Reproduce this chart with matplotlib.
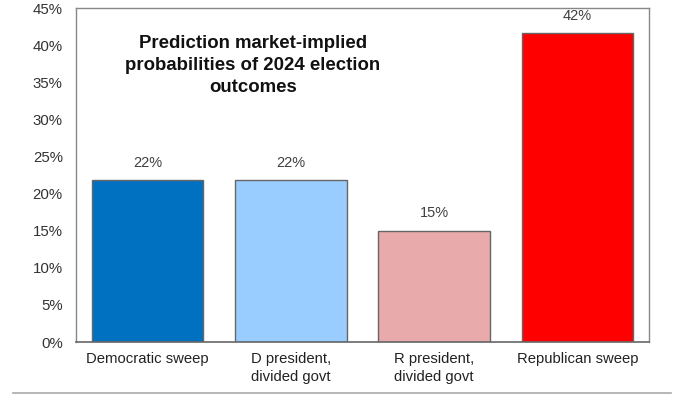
import matplotlib
matplotlib.use("Agg")
import matplotlib.pyplot as plt
from matplotlib.lines import Line2D

categories = ["Democratic sweep", "D president,\ndivided govt", "R president,\ndivided govt", "Republican sweep"]
values = [21.8, 21.8, 15.0, 41.6]
value_labels = ["22%", "22%", "15%", "42%"]
colors = ["#0070C0", "#99CCFF", "#E8AAAA", "#FF0000"]
yticks = [0, 5, 10, 15, 20, 25, 30, 35, 40, 45]
ytick_labels = [f"{t}%" for t in yticks]
title = "Prediction market-implied\nprobabilities of 2024 election\noutcomes"

plt.rcParams['font.family'] = ['Liberation Sans', 'DejaVu Sans']

fig = plt.figure(figsize=(7, 3.94), dpi=100)
ax = fig.add_axes([76/700, 1-342/394, (649-76)/700, (342-8)/394])

x = list(range(len(categories)))
bars = ax.bar(x, values, width=0.78, color=colors, edgecolor="#666666", linewidth=1.0, zorder=2)
for xi, v, lab in zip(x, values, value_labels):
    ax.annotate(lab, (xi, v), xytext=(0, 12.5), textcoords="offset points",
                ha="center", va="center", fontsize=10.5, color="#404040")

ax.set_xlim(-0.5, 3.5)
ax.set_ylim(0, 45)
ax.set_yticks(yticks)
ax.set_yticklabels(ytick_labels, fontsize=10.8, color="#333333")
ax.set_xticks(x)
ax.set_xticklabels(categories, fontsize=10.7, color="#222222", linespacing=1.4)
ax.tick_params(axis="both", length=0, pad=7)
ax.tick_params(axis="y", pad=9.5)
for s in ["left", "right", "top"]:
    ax.spines[s].set_color("#888888")
    ax.spines[s].set_linewidth(1.0)
ax.spines["bottom"].set_color("#666666")
ax.spines["bottom"].set_linewidth(1.2)

ax.text(253/700, 1-35/394, title, transform=fig.transFigure, ha="center", va="top",
        fontsize=13.4, fontweight="bold", color="#111111", linespacing=1.4)

fig.add_artist(Line2D([13/700, 671/700], [1-393/394, 1-393/394], transform=fig.transFigure,
                      color="#aaaaaa", linewidth=1.2))

fig.savefig("out.png", dpi=100)
